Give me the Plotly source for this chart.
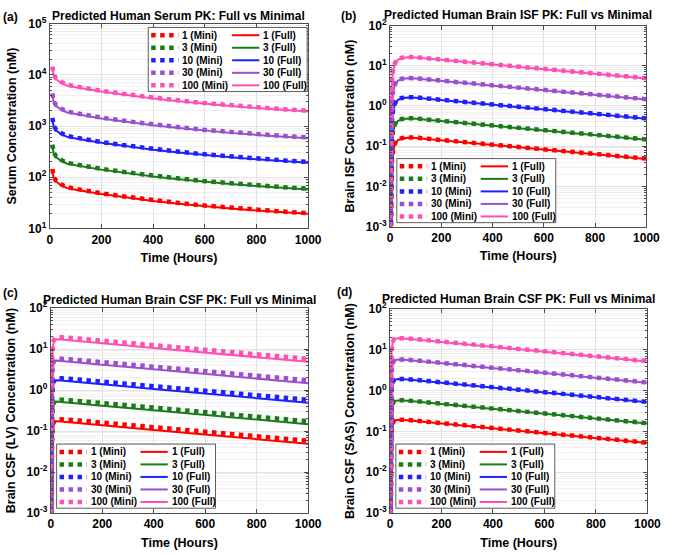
import plotly.graph_objects as go

FIG_W, FIG_H = 676, 556
FONT = "Liberation Sans, Arial, sans-serif"

DOSE_LABELS = ["1", "3", "10", "30", "100"]
COLORS = ["#ff0000", "#1b7a1b", "#1f1fff", "#9b4fcf", "#ff4fb3"]
X_TICKS = [0, 200, 400, 600, 800, 1000]

# ---------------- (a) Serum ----------------
T_SERUM = [10, 15, 25, 40, 65, 100, 200, 300, 400, 500, 600, 700, 800, 900, 1000]
SERUM_FULL = [
    [135, 98, 82, 72, 62, 57, 47, 40, 34.5, 30.5, 27, 24.5, 22.4, 20.7, 19.3],
    [405, 294, 246, 216, 186, 171, 141, 120, 103.5, 91.5, 81, 73.5, 67.2, 62.1, 57.9],
    [1350, 980, 820, 720, 620, 570, 470, 400, 345, 305, 270, 245, 224, 207, 193],
    [4050, 2940, 2460, 2160, 1860, 1710, 1410, 1200, 1035, 915, 810, 735, 672, 621, 579],
    [13500, 9800, 8200, 7200, 6200, 5700, 4700, 4000, 3450, 3050, 2700, 2450, 2240, 2070, 1930],
]
SERUM_MINI = [
    [145, 101, 85, 74.5, 64, 59, 48.6, 41.4, 35.7, 31.6, 28, 25.4, 23.2, 21.4, 20],
    [435, 303, 255, 223.5, 192, 177, 145.8, 124.2, 107.1, 94.8, 84, 76.2, 69.6, 64.2, 60],
    [1450, 1010, 850, 745, 640, 590, 486, 414, 357, 316, 280, 254, 232, 214, 200],
    [4350, 3030, 2550, 2235, 1920, 1770, 1458, 1242, 1071, 948, 840, 762, 696, 642, 600],
    [14500, 10100, 8500, 7450, 6400, 5900, 4860, 4140, 3570, 3160, 2800, 2540, 2320, 2140, 2000],
]

# ---------------- (b) Brain ISF ----------------
T_ISF = [0.5, 1, 2, 4, 7, 12, 20, 30, 45, 70, 100, 200, 400, 600, 800, 1000]
ISF_FULL = [
    [1e-5, 5e-5, 4e-4, 5e-3, 0.035, 0.075, 0.115, 0.14, 0.155, 0.162, 0.16, 0.14, 0.107, 0.082, 0.063, 0.048],
    [3e-5, 1.5e-4, 1.2e-3, 0.015, 0.105, 0.225, 0.345, 0.42, 0.465, 0.486, 0.48, 0.42, 0.321, 0.246, 0.189, 0.144],
    [1e-4, 5e-4, 4e-3, 0.05, 0.35, 0.75, 1.15, 1.4, 1.55, 1.62, 1.6, 1.4, 1.07, 0.82, 0.63, 0.48],
    [3e-4, 1.5e-3, 0.012, 0.15, 1.05, 2.25, 3.45, 4.2, 4.65, 4.86, 4.8, 4.2, 3.21, 2.46, 1.89, 1.44],
    [1e-3, 5e-3, 0.04, 0.5, 3.5, 7.5, 11.5, 14, 15.5, 16.2, 16, 14, 10.7, 8.2, 6.3, 4.8],
]
ISF_MINI = [
    [1e-5, 6e-5, 5e-4, 6e-3, 0.04, 0.08, 0.12, 0.145, 0.158, 0.165, 0.163, 0.142, 0.108, 0.083, 0.064, 0.049],
    [3e-5, 1.8e-4, 1.5e-3, 0.018, 0.12, 0.24, 0.36, 0.435, 0.474, 0.495, 0.489, 0.426, 0.324, 0.249, 0.192, 0.147],
    [1e-4, 6e-4, 5e-3, 0.06, 0.4, 0.8, 1.2, 1.45, 1.58, 1.65, 1.63, 1.42, 1.08, 0.83, 0.64, 0.49],
    [3e-4, 1.8e-3, 0.015, 0.18, 1.2, 2.4, 3.6, 4.35, 4.74, 4.95, 4.89, 4.26, 3.24, 2.49, 1.92, 1.47],
    [1e-3, 6e-3, 0.05, 0.6, 4, 8, 12, 14.5, 15.8, 16.5, 16.3, 14.2, 10.8, 8.3, 6.4, 4.9],
]

# ---------------- (c) Brain CSF (LV) ----------------
T_LV = [0.5, 1, 2, 3, 5, 8, 12, 18, 25, 40, 60, 100, 200, 400, 600, 800, 1000]
LV_FULL = [
    [1e-5, 1e-4, 1.5e-3, 0.01, 0.05, 0.11, 0.15, 0.172, 0.175, 0.171, 0.166, 0.158, 0.139, 0.107, 0.083, 0.064, 0.049],
    [3e-5, 3e-4, 4.5e-3, 0.03, 0.15, 0.33, 0.45, 0.516, 0.525, 0.513, 0.498, 0.474, 0.417, 0.321, 0.249, 0.192, 0.147],
    [1e-4, 1e-3, 0.015, 0.1, 0.5, 1.1, 1.5, 1.72, 1.75, 1.71, 1.66, 1.58, 1.39, 1.07, 0.83, 0.64, 0.49],
    [3e-4, 3e-3, 0.045, 0.3, 1.5, 3.3, 4.5, 5.16, 5.25, 5.13, 4.98, 4.74, 4.17, 3.21, 2.49, 1.92, 1.47],
    [1e-3, 0.01, 0.15, 1, 5, 11, 15, 17.2, 17.5, 17.1, 16.6, 15.8, 13.9, 10.7, 8.3, 6.4, 4.9],
]
LV_MINI = [
    [1e-5, 1e-4, 1.8e-3, 0.012, 0.06, 0.13, 0.17, 0.186, 0.193, 0.195, 0.192, 0.183, 0.161, 0.125, 0.097, 0.075, 0.058],
    [3e-5, 3e-4, 5.4e-3, 0.036, 0.18, 0.39, 0.51, 0.558, 0.579, 0.585, 0.576, 0.549, 0.483, 0.375, 0.291, 0.225, 0.174],
    [1e-4, 1e-3, 0.018, 0.12, 0.6, 1.3, 1.7, 1.86, 1.93, 1.95, 1.92, 1.83, 1.61, 1.25, 0.97, 0.75, 0.58],
    [3e-4, 3e-3, 0.054, 0.36, 1.8, 3.9, 5.1, 5.58, 5.79, 5.85, 5.76, 5.49, 4.83, 3.75, 2.91, 2.25, 1.74],
    [1e-3, 0.01, 0.18, 1.2, 6, 13, 17, 18.6, 19.3, 19.5, 19.2, 18.3, 16.1, 12.5, 9.7, 7.5, 5.8],
]

# ---------------- (d) Brain CSF (SAS) ----------------
T_SAS = [0.5, 1, 2, 3, 4, 6, 10, 15, 25, 40, 60, 100, 200, 400, 600, 800, 1000]
SAS_FULL = [
    [1e-5, 8e-5, 1.2e-3, 8e-3, 0.035, 0.09, 0.15, 0.178, 0.19, 0.193, 0.19, 0.181, 0.157, 0.119, 0.090, 0.068, 0.052],
    [3e-5, 2.4e-4, 3.6e-3, 0.024, 0.105, 0.27, 0.45, 0.534, 0.57, 0.579, 0.57, 0.543, 0.471, 0.357, 0.27, 0.204, 0.156],
    [1e-4, 8e-4, 0.012, 0.08, 0.35, 0.9, 1.5, 1.78, 1.9, 1.93, 1.9, 1.81, 1.57, 1.19, 0.9, 0.68, 0.52],
    [3e-4, 2.4e-3, 0.036, 0.24, 1.05, 2.7, 4.5, 5.34, 5.7, 5.79, 5.7, 5.43, 4.71, 3.57, 2.7, 2.04, 1.56],
    [1e-3, 8e-3, 0.12, 0.8, 3.5, 9, 15, 17.8, 19, 19.3, 19, 18.1, 15.7, 11.9, 9, 6.8, 5.2],
]
SAS_MINI = [
    [1e-5, 9e-5, 1.4e-3, 9e-3, 0.04, 0.095, 0.155, 0.182, 0.193, 0.196, 0.193, 0.184, 0.16, 0.121, 0.092, 0.069, 0.053],
    [3e-5, 2.7e-4, 4.2e-3, 0.027, 0.12, 0.285, 0.465, 0.546, 0.579, 0.588, 0.579, 0.552, 0.48, 0.363, 0.276, 0.207, 0.159],
    [1e-4, 9e-4, 0.014, 0.09, 0.4, 0.95, 1.55, 1.82, 1.93, 1.96, 1.93, 1.84, 1.6, 1.21, 0.92, 0.69, 0.53],
    [3e-4, 2.7e-3, 0.042, 0.27, 1.2, 2.85, 4.65, 5.46, 5.79, 5.88, 5.79, 5.52, 4.8, 3.63, 2.76, 2.07, 1.59],
    [1e-3, 9e-3, 0.14, 0.9, 4, 9.5, 15.5, 18.2, 19.3, 19.6, 19.3, 18.4, 16, 12.1, 9.2, 6.9, 5.3],
]

SERUM_EXP = [1, 2, 3, 4, 5]
BRAIN_EXP = [-3, -2, -1, 0, 1, 2]

PANELS = [
    dict(label="(a)", t=T_SERUM, full=SERUM_FULL, mini=SERUM_MINI,
         title="Predicted Human Serum PK: Full vs Minimal",
         ylabel="Serum Concentration (nM)", exps=SERUM_EXP,
         xpx=(48, 313), ypx=(15, 226), title_y=7, label_xy=(8, 8), legend_xy=(149, 19)),
    dict(label="(b)", t=T_ISF, full=ISF_FULL, mini=ISF_MINI,
         title="Predicted Human Brain ISF PK: Full vs Minimal",
         ylabel="Brain ISF Concentration (nM)", exps=BRAIN_EXP,
         xpx=(397, 660), ypx=(17, 224), title_y=6, label_xy=(354, 7), legend_xy=(404, 154)),
    dict(label="(c)", t=T_LV, full=LV_FULL, mini=LV_MINI,
         title="Predicted Human Brain CSF PK: Full vs Minimal",
         ylabel="Brain CSF (LV) Concentration (nM)", exps=BRAIN_EXP,
         xpx=(49, 313), ypx=(308, 519), title_y=300, label_xy=(8, 292), legend_xy=(55, 448)),
    dict(label="(d)", t=T_SAS, full=SAS_FULL, mini=SAS_MINI,
         title="Predicted Human Brain CSF PK: Full vs Minimal",
         ylabel="Brain CSF (SAS) Concentration (nM)", exps=BRAIN_EXP,
         xpx=(397, 661), ypx=(309, 519), title_y=299, label_xy=(350, 291), legend_xy=(403, 448)),
]

DOT = "4.5px,4.5px"
AXIS_COLOR = "#4d4d4d"


def fx(px):
    return px / FIG_W


def fy(py):
    return 1 - py / FIG_H


fig = go.Figure()
shapes = []
annotations = []
layout_axes = {}

for i, p in enumerate(PANELS):
    n = "" if i == 0 else str(i + 1)
    xa, ya = "x" + n, "y" + n
    for d in range(5):
        fig.add_trace(go.Scatter(
            x=p["t"], y=p["full"][d], mode="lines", xaxis=xa, yaxis=ya,
            name=DOSE_LABELS[d] + " (Full)", showlegend=False,
            line=dict(color=COLORS[d], width=2)))
    for d in range(5):
        fig.add_trace(go.Scatter(
            x=p["t"], y=p["mini"][d], mode="lines", xaxis=xa, yaxis=ya,
            name=DOSE_LABELS[d] + " (Mini)", showlegend=False,
            line=dict(color=COLORS[d], width=4.5, dash=DOT)))

    common = dict(
        showline=True, linecolor=AXIS_COLOR, linewidth=1, mirror="allticks",
        ticks="inside", ticklen=4, tickcolor=AXIS_COLOR,
        showgrid=True, gridcolor="#e2e2e2", gridwidth=1, zeroline=False,
        tickfont=dict(family=FONT, size=12, color="black", weight="bold"),
    )
    layout_axes["xaxis" + n] = dict(
        common, domain=[fx(p["xpx"][0]), fx(p["xpx"][1])], anchor=ya,
        range=[0, 1000], tickmode="array", tickvals=X_TICKS,
        ticktext=[str(v) for v in X_TICKS],
        title=dict(text="Time (Hours)", standoff=7,
                   font=dict(family=FONT, size=12.5, color="black", weight="bold")))
    exps = p["exps"]
    layout_axes["yaxis" + n] = dict(
        common, domain=[fy(p["ypx"][1]), fy(p["ypx"][0])], anchor=xa,
        type="log", range=[exps[0], exps[-1]], tickmode="array",
        tickvals=[10.0 ** e for e in exps],
        ticktext=["10<sup>%d</sup>" % e for e in exps],
        minor=dict(dtick="D1", ticks="inside", ticklen=2, tickcolor=AXIS_COLOR,
                   showgrid=True, gridcolor="#f0f0f0"),
        title=dict(text=p["ylabel"], standoff=8,
                   font=dict(family=FONT, size=12.5, color="black", weight="bold")))

    # title and panel label
    annotations.append(dict(
        text=p["title"], xref="paper", yref="paper",
        x=fx((p["xpx"][0] + p["xpx"][1]) / 2), y=fy(p["title_y"]),
        xanchor="center", yanchor="middle", showarrow=False,
        font=dict(family=FONT, size=12, color="black", weight="bold")))
    annotations.append(dict(
        text=p["label"], xref="paper", yref="paper",
        x=fx(p["label_xy"][0]), y=fy(p["label_xy"][1]),
        xanchor="center", yanchor="middle", showarrow=False,
        font=dict(family=FONT, size=12, color="black", weight="bold")))

    # legend box (drawn as a guide)
    bl, bt = p["legend_xy"]
    LW, LH = 163, 66
    shapes.append(dict(type="rect", xref="paper", yref="paper",
                       x0=fx(bl), x1=fx(bl + LW), y0=fy(bt + LH), y1=fy(bt),
                       fillcolor="white", line=dict(color="#333333", width=0.8),
                       layer="above"))
    for d in range(5):
        ry = bt + 8 + 12.9 * d
        shapes.append(dict(type="line", xref="paper", yref="paper",
                           x0=fx(bl + 3), x1=fx(bl + 31), y0=fy(ry), y1=fy(ry),
                           line=dict(color=COLORS[d], width=4.5, dash=DOT), layer="above"))
        annotations.append(dict(
            text=DOSE_LABELS[d] + " (Mini)", xref="paper", yref="paper",
            x=fx(bl + 33), y=fy(ry), xanchor="left", yanchor="middle", showarrow=False,
            font=dict(family=FONT, size=10, color="black", weight="bold")))
        shapes.append(dict(type="line", xref="paper", yref="paper",
                           x0=fx(bl + 86), x1=fx(bl + 114), y0=fy(ry), y1=fy(ry),
                           line=dict(color=COLORS[d], width=2), layer="above"))
        annotations.append(dict(
            text=DOSE_LABELS[d] + " (Full)", xref="paper", yref="paper",
            x=fx(bl + 116), y=fy(ry), xanchor="left", yanchor="middle", showarrow=False,
            font=dict(family=FONT, size=10, color="black", weight="bold")))

fig.update_layout(
    width=FIG_W, height=FIG_H,
    margin=dict(l=0, r=0, t=0, b=0),
    paper_bgcolor="white", plot_bgcolor="white",
    showlegend=False,
    font=dict(family=FONT, color="black"),
    shapes=shapes, annotations=annotations,
    **layout_axes,
)

fig.write_html(
    "out.html",
    config={"displayModeBar": False},
    post_script="document.body.style.margin='0';document.body.style.overflow='hidden';",
)
